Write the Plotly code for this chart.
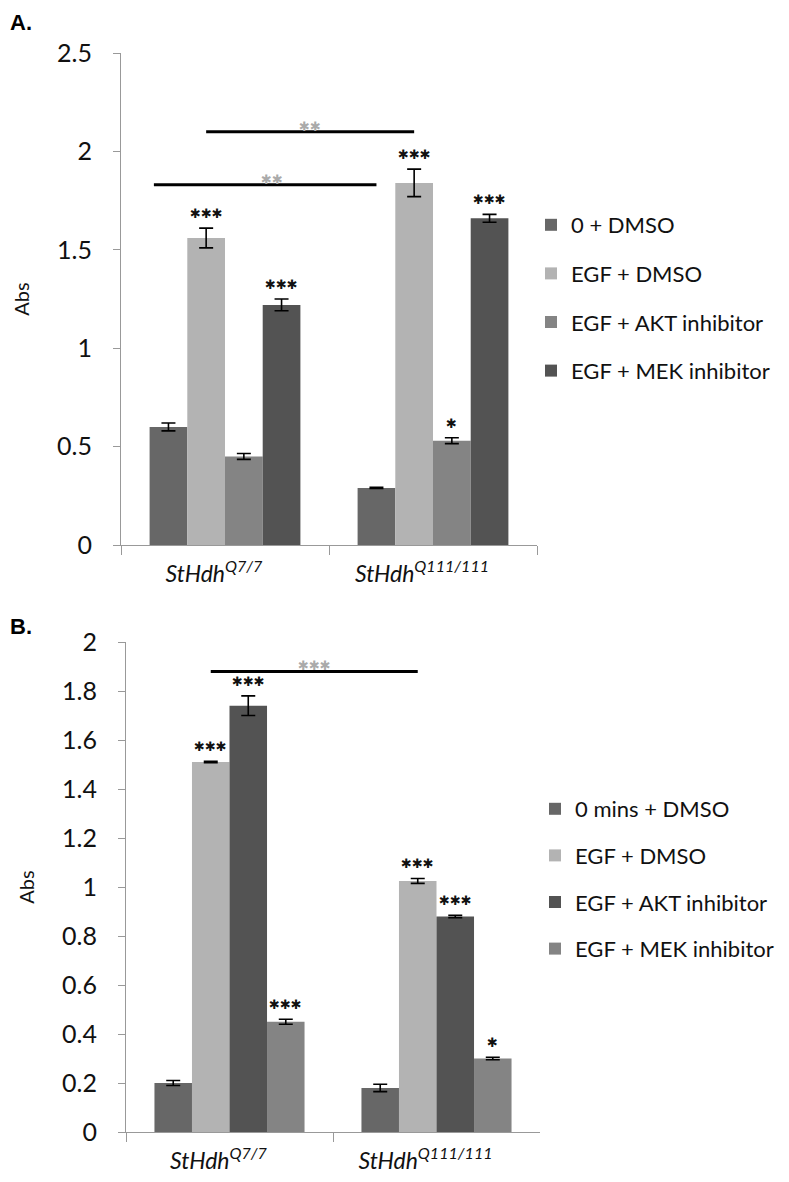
import plotly.graph_objects as go

# ---------------- data ----------------
categories = ["StHdh Q7/7", "StHdh Q111/111"]
tick_text = ["<i>StHdh<sup>Q7/7</sup></i>", "<i>StHdh<sup>Q111/111</sup></i>"]

# Panel A
a_names = ["0 + DMSO", "EGF + DMSO", "EGF + AKT inhibitor", "EGF + MEK inhibitor"]
a_vals = [[0.60, 0.29], [1.56, 1.84], [0.45, 0.53], [1.22, 1.66]]
a_errs = [[0.02, 0.003], [0.05, 0.07], [0.015, 0.015], [0.03, 0.02]]
a_stars = [["", ""], ["***", "***"], ["", "*"], ["***", "***"]]
a_compare = [(0, 1.83, "**"), (1, 2.10, "**")]
a_colors = ["#676767", "#b3b3b3", "#848484", "#535353"]

# Panel B
b_names = ["0 mins + DMSO", "EGF + DMSO", "EGF + AKT inhibitor", "EGF + MEK inhibitor"]
b_vals = [[0.20, 0.18], [1.51, 1.025], [1.74, 0.88], [0.45, 0.30]]
b_errs = [[0.01, 0.015], [0.003, 0.01], [0.04, 0.005], [0.01, 0.005]]
b_stars = [["", ""], ["***", "***"], ["***", "***"], ["***", "*"]]
b_compare = [(1, 1.88, "***")]
b_colors = ["#676767", "#b3b3b3", "#535353", "#848484"]

BARGAP = 0.275
NSER = 4
W = 1 - BARGAP
FONT = "Lato"

# page has an 8px body margin; figure is sized to fit the window
OFF = 8
WD = 789.0 - OFF
H = 1182.0 - OFF


def px_x(p):
    return (p - OFF) / WD


def px_y(p):
    return 1 - (p - OFF) / H


fig = go.Figure()


def add_panel(names, vals, errs, colors, xa, ya, legend):
    for i, n in enumerate(names):
        fig.add_trace(go.Bar(
            x=categories, y=vals[i], name=n,
            marker=dict(color=colors[i], line=dict(width=0)),
            error_y=dict(type="data", array=errs[i], color="black",
                         thickness=1.6, width=7, visible=True),
            xaxis=xa, yaxis=ya, legend=legend, legendgroup=legend + str(i),
        ))


def center(k, i):
    return k + (i - (NSER - 1) / 2) * W / NSER


def add_annots(vals, errs, stars, compare, xr, yr):
    for i in range(NSER):
        for k in range(len(categories)):
            if stars[i][k]:
                fig.add_annotation(
                    x=center(k, i), y=vals[i][k] + errs[i][k], xref=xr, yref=yr,
                    text=stars[i][k].replace("*", "✱"), showarrow=False,
                    yanchor="bottom", yshift=5,
                    font=dict(family="DejaVu Sans", size=13, color="#111"))
    for (i, level, lab) in compare:
        fig.add_shape(type="line", xref=xr, yref=yr,
                      x0=center(0, i) - (0.07 if i == 0 else 0), x1=center(1, i),
                      y0=level, y1=level, line=dict(color="black", width=3))
        fig.add_annotation(
            x=(center(0, i) + center(1, i)) / 2, y=level, xref=xr, yref=yr,
            text=lab.replace("*", "✱"), showarrow=False, yanchor="bottom", yshift=-4,
            font=dict(family="DejaVu Sans", size=13, color="#aaaaaa"))


add_panel(a_names, a_vals, a_errs, a_colors, "x", "y", "legend")
add_panel(b_names, b_vals, b_errs, b_colors, "x2", "y2", "legend2")
add_annots(a_vals, a_errs, a_stars, a_compare, "x", "y")
add_annots(b_vals, b_errs, b_stars, b_compare, "x2", "y2")

xcommon = dict(type="category", tickvals=categories, ticktext=tick_text,
               showline=True, linecolor="#999999", linewidth=1,
               ticks="outside", tickson="boundaries", ticklen=9, tickcolor="#999999",
               tickfont=dict(family=FONT, size=23, color="#111"),
               ticklabelstandoff=8, ticklabelshift=-11, showgrid=False, zeroline=False,
               range=[-0.5, 1.5], automargin=False)
ycommon = dict(showline=True, linecolor="#999999", linewidth=1,
               ticks="outside", ticklen=7, tickcolor="#999999",
               tickfont=dict(family=FONT, size=25, color="#111"),
               ticklabelstandoff=16, showgrid=False, zeroline=False, automargin=False)

fig.update_layout(
    width=WD, height=H,
    margin=dict(l=0, r=0, t=0, b=0, autoexpand=False),
    paper_bgcolor="white", plot_bgcolor="white",
    barmode="group", bargap=BARGAP, bargroupgap=0,
    font=dict(family=FONT, color="#111"),
    xaxis=dict(domain=[px_x(121), px_x(537)], anchor="y", **xcommon),
    yaxis=dict(domain=[px_y(545), px_y(53)], anchor="x", range=[0, 2.5], dtick=0.5,
               title=dict(text="Abs", font=dict(family=FONT, size=20), standoff=22),
               **ycommon),
    xaxis2=dict(domain=[px_x(126), px_x(540)], anchor="y2", **xcommon),
    yaxis2=dict(domain=[px_y(1132), px_y(642)], anchor="x2", range=[0, 2], dtick=0.2,
                title=dict(text="Abs", font=dict(family=FONT, size=20), standoff=22),
                **ycommon),
    legend=dict(x=px_x(531), y=px_y(204), xanchor="left", yanchor="top",
                font=dict(family=FONT, size=22, color="#111"),
                tracegroupgap=17, traceorder="grouped", bgcolor="rgba(0,0,0,0)"),
    legend2=dict(x=px_x(535), y=px_y(788), xanchor="left", yanchor="top",
                 font=dict(family=FONT, size=22, color="#111"),
                 tracegroupgap=15, traceorder="grouped", bgcolor="rgba(0,0,0,0)"),
    showlegend=True,
)

fig.add_annotation(x=px_x(8), y=px_y(8), xref="paper", yref="paper", xanchor="left",
                   yanchor="top", text="<b>A.</b>", showarrow=False,
                   font=dict(family="Liberation Sans", size=22, color="black"))
fig.add_annotation(x=px_x(8), y=px_y(612), xref="paper", yref="paper", xanchor="left",
                   yanchor="top", text="<b>B.</b>", showarrow=False,
                   font=dict(family="Liberation Sans", size=22, color="black"))

fig.write_html("out.html")
